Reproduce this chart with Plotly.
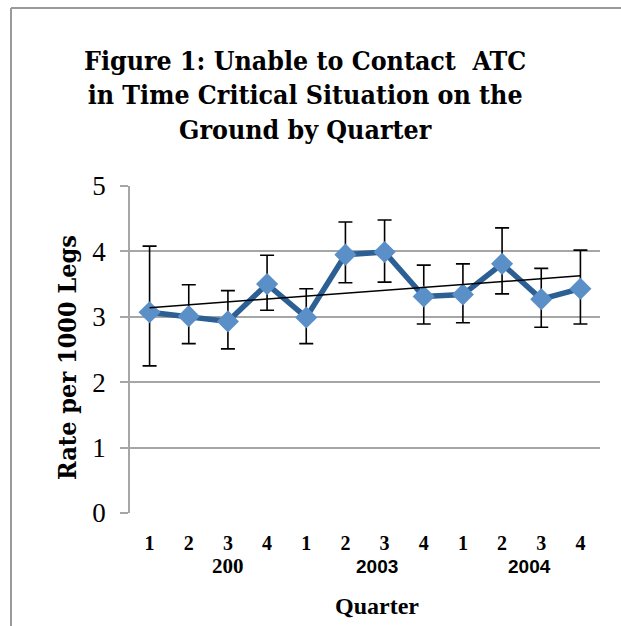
import numpy as np
import plotly.graph_objects as go

# Quarterly rates per 1000 legs, 2002-2004
quarters = ["1", "2", "3", "4", "1", "2", "3", "4", "1", "2", "3", "4"]
rates = [3.07, 3.01, 2.93, 3.50, 2.99, 3.95, 3.99, 3.31, 3.34, 3.81, 3.27, 3.43]
upper = [4.08, 3.49, 3.40, 3.94, 3.43, 4.45, 4.48, 3.79, 3.81, 4.36, 3.74, 4.02]
lower = [2.25, 2.59, 2.51, 3.10, 2.59, 3.52, 3.53, 2.89, 2.91, 3.35, 2.84, 2.89]
year_labels = ["200", "2003", "2004"]
year_pos = [2.0, 5.8, 9.7]
y_ticks = [0, 1, 2, 3, 4, 5]

x = list(range(len(rates)))
err_plus = [u - r for u, r in zip(upper, rates)]
err_minus = [r - l for r, l in zip(rates, lower)]

# Linear trend through the quarterly rates
slope, intercept = np.polyfit(x, rates, 1)
trend = [intercept + slope * xi for xi in x]

SERIF = "Liberation Serif"
TITLE_FONT = "DejaVu Serif Condensed"
SANS = "Liberation Sans Narrow, Liberation Sans"
GRID = "#a6a6a6"

fig = go.Figure()
fig.add_trace(go.Scatter(
    x=x, y=rates, mode="lines+markers",
    line=dict(color="#2c5f94", width=5.5),
    marker=dict(symbol="diamond", size=17, color="#5b8fc8"),
    error_y=dict(type="data", symmetric=False, array=err_plus, arrayminus=err_minus,
                 color="black", thickness=1.6, width=7),
    showlegend=False,
))
fig.add_trace(go.Scatter(
    x=x, y=trend, mode="lines",
    line=dict(color="black", width=1.5),
    showlegend=False, hoverinfo="skip",
))

annotations = [
    dict(text="<b>Figure 1: Unable to Contact  ATC<br>in Time Critical Situation on the<br>Ground by Quarter</b>",
         xref="paper", yref="paper", x=(305 - 130) / 470, y=(513 - 95) / 327,
         xanchor="center", yanchor="middle", showarrow=False,
         font=dict(family=TITLE_FONT, size=26.5, color="black"), align="center"),
    dict(text="<b>Quarter</b>", xref="paper", yref="paper",
         x=(377 - 130) / 470, y=(513 - 606) / 327, xanchor="center", yanchor="middle",
         showarrow=False, font=dict(family=SERIF, size=24, color="black")),
    dict(text="<b>Rate per 1000 Legs</b>", xref="paper", yref="paper", textangle=-90,
         x=(67 - 130) / 470, y=(513 - 358) / 327, xanchor="center", yanchor="middle",
         showarrow=False, font=dict(family=TITLE_FONT, size=25, color="black")),
]
for i, (lab, pos) in enumerate(zip(year_labels, year_pos)):
    fam = SERIF if i == 0 else SANS
    size = 21 if i == 0 else 19
    annotations.append(dict(
        text=f"<b>{lab}</b>", xref="x", yref="paper", x=pos, y=(513 - 566) / 327,
        xanchor="center", yanchor="middle", showarrow=False,
        font=dict(family=fam, size=size, color="black")))

fig.update_layout(
    width=621, height=626,
    margin=dict(l=130, r=21, t=186, b=113),
    paper_bgcolor="white", plot_bgcolor="white",
    annotations=annotations,
    shapes=[
        dict(type="line", xref="paper", yref="paper",
             x0=(11 - 130) / 470, x1=(640 - 130) / 470,
             y0=(513 - 8) / 327, y1=(513 - 8) / 327,
             line=dict(color="#9a9a9a", width=2)),
        dict(type="line", xref="paper", yref="paper",
             x0=(11 - 130) / 470, x1=(11 - 130) / 470,
             y0=(513 - 8) / 327, y1=(513 - 640) / 327,
             line=dict(color="#9a9a9a", width=2)),
    ],
)
fig.update_xaxes(
    tickmode="array", tickvals=x, ticktext=[f"<b>{q}</b>" for q in quarters],
    range=[-0.5, len(rates) - 0.5], showgrid=False, zeroline=False,
    showline=False, ticks="", tickfont=dict(family=SERIF, size=20, color="black"),
    ticklabelstandoff=16,
)
fig.update_yaxes(
    range=[0, 5], tickvals=y_ticks, showgrid=True, gridcolor=GRID, gridwidth=1.5,
    zeroline=False, showline=True, linecolor=GRID, linewidth=1.5,
    ticks="outside", ticklen=8, tickcolor=GRID, tickwidth=1.5,
    tickfont=dict(family=SERIF, size=27, color="black"), ticklabelstandoff=9,
)

fig.write_html("out.html")
